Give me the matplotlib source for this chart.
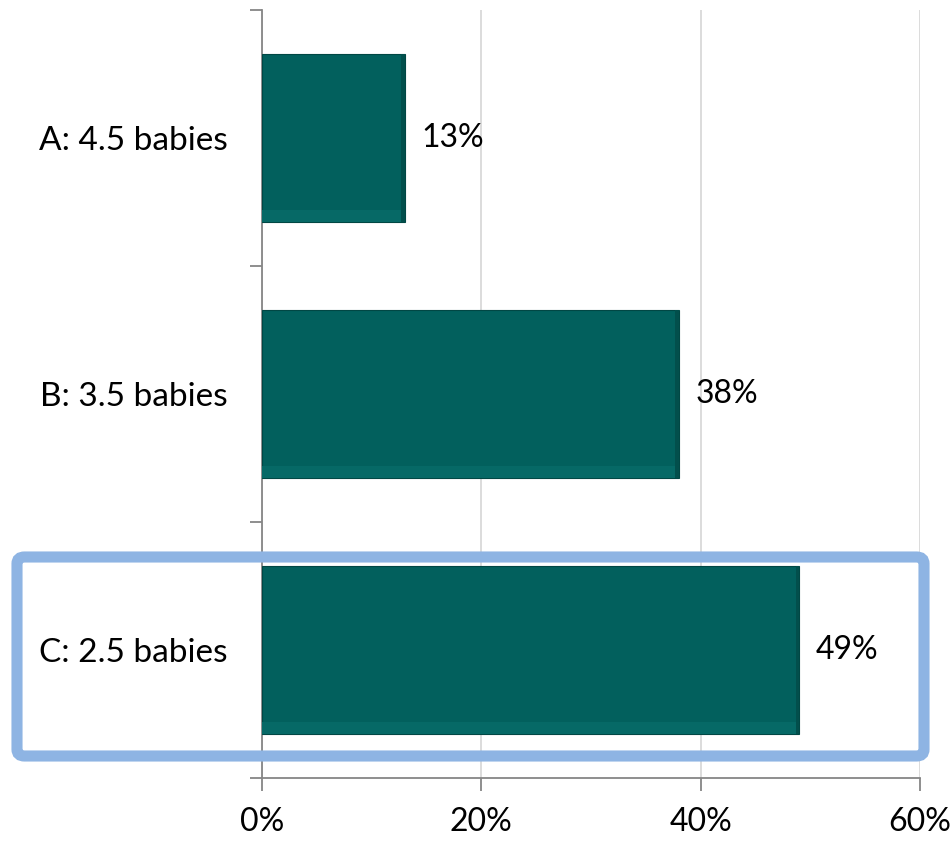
import matplotlib.pyplot as plt
from matplotlib.patches import FancyBboxPatch
from matplotlib.ticker import FixedLocator, PercentFormatter

categories = ['A: 4.5 babies', 'B: 3.5 babies', 'C: 2.5 babies']
shares = [0.13, 0.38, 0.49]
value_labels = ['13%', '38%', '49%']
x_ticks = [0, 0.2, 0.4, 0.6]

plt.rcParams['font.family'] = ['Lato', 'DejaVu Sans']

fig = plt.figure(figsize=(9.5, 8.44), dpi=100)
ax = fig.add_axes([262 / 950, 1 - 778 / 844, 658 / 950, 768 / 844])

pos = list(range(len(categories)))
bar_color = '#02605d'
bars = ax.barh(pos, shares, height=0.655, color=bar_color,
               edgecolor='#014744', linewidth=0.8, zorder=3)

# fake bevel: lighter strip at the bottom, darker strip on the right
for p, v in zip(pos, shares):
    ax.barh(p + 0.305, v - 0.003, height=0.045, color='#066966', zorder=4, linewidth=0)
    ax.barh(p, 0.003, left=v - 0.003, height=0.655, color='#024f4c', zorder=4, linewidth=0)

for p, v, lab in zip(pos, shares, value_labels):
    ax.text(v + 0.015, p, lab, va='center', ha='left', fontsize=23, color='black', zorder=5)

ax.set_xlim(0, 0.6)
ax.set_ylim(len(categories) - 0.5, -0.5)

ax.set_xticks(x_ticks)
ax.xaxis.set_major_formatter(PercentFormatter(1.0, decimals=0))
ax.tick_params(axis='x', length=9, width=1.3, color='#868686', labelsize=23, pad=12)

# category boundaries as ticks, category names as minor labels
ax.yaxis.set_major_locator(FixedLocator([p - 0.5 for p in pos] + [pos[-1] + 0.5]))
ax.set_yticklabels([])
ax.set_yticks(pos, minor=True)
ax.set_yticklabels(categories, minor=True)
ax.tick_params(axis='y', which='major', length=9, width=1.3, color='#868686')
ax.tick_params(axis='y', which='minor', length=0, labelsize=24, pad=25)

ax.grid(axis='x', color='#d9d9d9', linewidth=1.3, zorder=0)
ax.set_axisbelow(True)
for side in ['top', 'right']:
    ax.spines[side].set_visible(False)
for side in ['left', 'bottom']:
    ax.spines[side].set_color('#868686')
    ax.spines[side].set_linewidth(1.3)

# highlight box around the correct answer
box = FancyBboxPatch((17 / 950, 1 - 756 / 844), 907 / 950, 199 / 844,
                     boxstyle='round,pad=0,rounding_size=0.008',
                     transform=fig.transFigure, fill=False,
                     edgecolor='#8eb4e3', linewidth=8, zorder=10)
fig.patches.append(box)

fig.savefig('out.png', dpi=100)
